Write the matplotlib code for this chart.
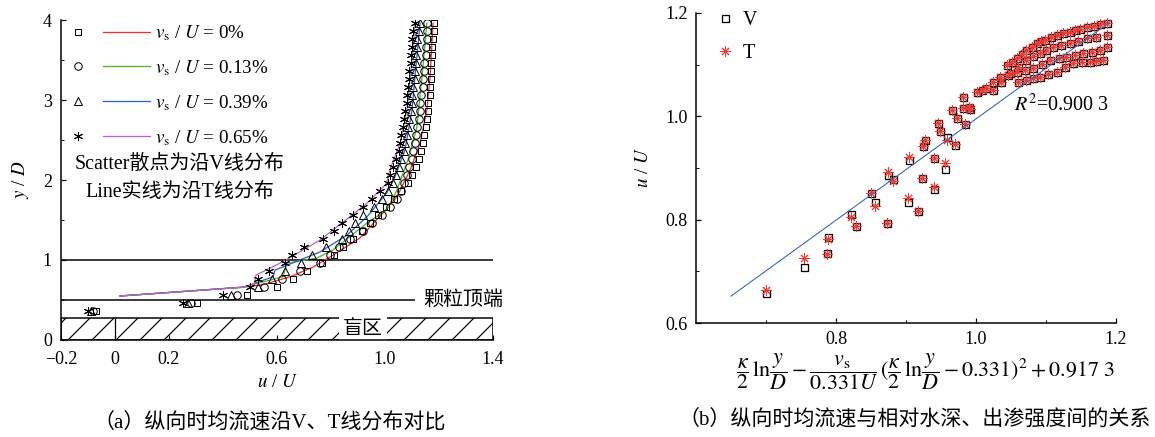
import matplotlib
matplotlib.use('Agg')
import matplotlib.pyplot as plt
import numpy as np
from matplotlib.lines import Line2D
from matplotlib.legend_handler import HandlerBase
from matplotlib.patches import Rectangle


###############################################################################
# (a) profiles along V (markers) and T (lines)
y_levels = [0.36, 0.46, 0.56, 0.66, 0.76, 0.86, 0.96, 1.06, 1.16, 1.26,
            1.36, 1.46, 1.56, 1.66, 1.76, 1.86, 1.96, 2.06, 2.16, 2.26,
            2.36, 2.46, 2.56, 2.66, 2.76, 2.86, 2.96, 3.06, 3.16, 3.26,
            3.36, 3.46, 3.56, 3.66, 3.76, 3.86, 3.96]

u_v_000 = [-0.07, 0.305, 0.49, 0.60, 0.66, 0.71, 0.765, 0.81, 0.845, 0.88,
           0.915, 0.945, 0.975, 1.005, 1.035, 1.06, 1.085, 1.10, 1.115, 1.125,
           1.135, 1.14, 1.145, 1.15, 1.155, 1.16, 1.16, 1.165, 1.165, 1.17,
           1.17, 1.17, 1.175, 1.175, 1.178, 1.18, 1.18]
u_v_013 = [-0.08, 0.28, 0.45, 0.55, 0.62, 0.685, 0.76, 0.795, 0.83, 0.87,
           0.92, 0.95, 0.99, 1.02, 1.045, 1.06, 1.07, 1.08, 1.09, 1.10,
           1.105, 1.11, 1.115, 1.12, 1.125, 1.13, 1.13, 1.135, 1.14, 1.14,
           1.145, 1.145, 1.15, 1.15, 1.155, 1.155, 1.155]
u_v_039 = [-0.09, 0.27, 0.43, 0.53, 0.58, 0.63, 0.69, 0.73, 0.78, 0.84,
           0.865, 0.89, 0.92, 0.96, 0.99, 1.01, 1.03, 1.04, 1.05, 1.06,
           1.07, 1.075, 1.08, 1.085, 1.09, 1.095, 1.10, 1.10, 1.105, 1.11,
           1.11, 1.115, 1.115, 1.12, 1.12, 1.125, 1.13]
u_v_065 = [-0.10, 0.25, 0.40, 0.50, 0.53, 0.57, 0.63, 0.655, 0.70, 0.77,
           0.81, 0.84, 0.88, 0.92, 0.95, 0.98, 1.01, 1.02, 1.03, 1.04,
           1.05, 1.055, 1.06, 1.065, 1.07, 1.075, 1.08, 1.08, 1.085, 1.09,
           1.09, 1.095, 1.095, 1.10, 1.10, 1.105, 1.11]

t_y_000 = [0.55, 0.66, 0.69, 0.79, 0.91, 1.06, 1.275, 1.59, 1.79, 2.125, 2.46, 2.875, 3.29, 3.96]
t_u_000 = [0.018, 0.474, 0.548, 0.648, 0.733, 0.807, 0.907, 0.993, 1.044, 1.093, 1.13, 1.155, 1.167, 1.178]
t_y_013 = [0.55, 0.66, 0.675, 0.79, 0.96, 1.025, 1.125, 1.46, 1.63, 1.875, 2.25, 2.66, 3.29, 3.96]
t_u_013 = [0.018, 0.474, 0.489, 0.622, 0.637, 0.748, 0.807, 0.933, 1.007, 1.044, 1.085, 1.118, 1.137, 1.155]
t_y_039 = [0.55, 0.66, 0.675, 0.79, 0.875, 1.0, 1.1, 1.31, 1.54, 1.84, 2.04, 2.375, 2.875, 3.29, 3.96]
t_u_039 = [0.018, 0.474, 0.489, 0.585, 0.593, 0.685, 0.759, 0.859, 0.933, 1.007, 1.037, 1.074, 1.10, 1.111, 1.13]
t_y_065 = [0.55, 0.66, 0.70, 0.81, 0.975, 1.25, 1.375, 1.70, 1.96, 2.125, 2.46, 2.875, 3.5, 3.96]
t_u_065 = [0.018, 0.474, 0.515, 0.522, 0.62, 0.76, 0.807, 0.93, 1.007, 1.018, 1.056, 1.081, 1.10, 1.111]

labels_a = [r'$v_{\mathrm{s}}$ / $U$ = 0%', r'$v_{\mathrm{s}}$ / $U$ = 0.13%',
            r'$v_{\mathrm{s}}$ / $U$ = 0.39%', r'$v_{\mathrm{s}}$ / $U$ = 0.65%']

###############################################################################
# (b) u/U against the fitted expression
low_x = [0.700, 0.754, 0.787, 0.789, 0.821, 0.829, 0.850, 0.856, 0.873, 0.874,
         0.881, 0.903, 0.904, 0.917, 0.923, 0.924, 0.927, 0.940, 0.940, 0.956,
         0.946, 0.949, 0.958, 0.970, 0.966, 0.973, 0.981, 0.981, 0.990, 0.992, 0.984]
low_v = [0.658, 0.708, 0.735, 0.766, 0.811, 0.788, 0.852, 0.834, 0.794, 0.886,
         0.879, 0.834, 0.915, 0.817, 0.880, 0.943, 0.954, 0.919, 0.859, 0.898,
         0.987, 0.972, 0.960, 0.944, 1.012, 0.997, 1.037, 1.016, 1.018, 1.015, 0.986]
low_t = [0.663, 0.726, 0.733, 0.762, 0.806, 0.788, 0.852, 0.826, 0.794, 0.893,
         0.874, 0.841, 0.922, 0.817, 0.880, 0.943, 0.954, 0.919, 0.864, 0.910,
         0.987, 0.972, 0.954, 0.947, 1.012, 0.997, 1.037, 1.016, 1.018, 1.015, 0.986]

band_x = [1.001, 1.008, 1.015, 1.025, 1.034, 1.044, 1.051, 1.058, 1.065, 1.072,
          1.080, 1.087, 1.093, 1.099, 1.107, 1.115, 1.124, 1.134, 1.141, 1.149,
          1.158, 1.168, 1.177, 1.187,
          1.025, 1.036, 1.048, 1.060, 1.072, 1.082, 1.091, 1.100, 1.110, 1.122,
          1.134, 1.146, 1.158, 1.172, 1.187,
          1.045, 1.058, 1.070, 1.082, 1.094, 1.106, 1.118, 1.129, 1.141, 1.153,
          1.165, 1.177, 1.187,
          1.060, 1.072, 1.082, 1.091, 1.103, 1.115, 1.127, 1.139, 1.151, 1.163,
          1.172, 1.182]
band_y = [1.048, 1.051, 1.054, 1.066, 1.077, 1.099, 1.106, 1.112, 1.120, 1.128,
          1.135, 1.141, 1.145, 1.148, 1.153, 1.157, 1.161, 1.164, 1.167, 1.170,
          1.173, 1.175, 1.178, 1.180,
          1.051, 1.067, 1.083, 1.096, 1.109, 1.116, 1.122, 1.129, 1.135, 1.138,
          1.141, 1.146, 1.151, 1.154, 1.157,
          1.080, 1.086, 1.090, 1.093, 1.101, 1.109, 1.112, 1.115, 1.119, 1.122,
          1.125, 1.128, 1.135,
          1.066, 1.070, 1.074, 1.077, 1.082, 1.086, 1.095, 1.103, 1.105, 1.106,
          1.108, 1.109]

fit_slope = 0.98
fit_intercept = 0.015
fit_range = [0.65, 1.19]

###############################################################################
plt.rcParams.update({'font.family': ['Liberation Serif', 'Noto Sans CJK SC'],
                     'mathtext.fontset': 'stix',
                     'axes.linewidth': 1.5,
                     'hatch.linewidth': 1.2,
                     'axes.unicode_minus': True})

fig = plt.figure(figsize=(1155 / 72, 437 / 72), dpi=72)
ax1 = fig.add_axes([61 / 1155, 1 - 340 / 437, 432 / 1155, 320 / 437])
ax2 = fig.add_axes([696 / 1155, 1 - 323 / 437, 420 / 1155, 310 / 437])


class PairHandler(HandlerBase):
    # marker on the left, short line on the right
    def create_artists(self, legend, orig_handle, xdescent, ydescent,
                       width, height, fontsize, trans):
        mk, ln = orig_handle
        yc = height / 2 - ydescent
        m = Line2D([-xdescent + 0.1 * width], [yc], linestyle='none',
                   marker=mk.get_marker(), ms=mk.get_markersize(),
                   mfc='none', mec='k', mew=mk.get_markeredgewidth(),
                   transform=trans)
        l = Line2D([-xdescent + 0.41 * width, -xdescent + width], [yc, yc],
                   color=ln.get_color(), lw=ln.get_linewidth(), transform=trans)
        return [m, l]


line_colors = ['#e8322d', '#4fb52f', '#2f62c4', '#b468c0']
markers = ['s', 'o', '^', (6, 2, 0)]
msizes = [6.5, 7.5, 8, 9]
u_series = [u_v_000, u_v_013, u_v_039, u_v_065]
t_series = [(t_u_000, t_y_000), (t_u_013, t_y_013), (t_u_039, t_y_039), (t_u_065, t_y_065)]

pairs = []
for i in range(4):
    ln, = ax1.plot(t_series[i][0], t_series[i][1], color=line_colors[i], lw=1.3, zorder=3)
    mk, = ax1.plot(u_series[i], y_levels, ls='none', marker=markers[i], ms=msizes[i],
                   mfc='none', mec='k', mew=1.0, zorder=4)
    pairs.append((mk, ln))

ax1.hlines(1.0, -0.2, 1.4, color='k', lw=1.5)
ax1.hlines(0.5, -0.2, 1.11, color='k', lw=1.5)
ax1.add_patch(Rectangle((-0.2, 0), 1.6, 0.275, fill=False, hatch='/',
                        edgecolor='k', lw=1.5, zorder=2))
ax1.vlines(0, 0, 0.275, color='k', lw=1.2, zorder=2)
ax1.text(0.917, 0.135, '盲区', fontsize=20, ha='center', va='center', zorder=2.2,
         bbox=dict(boxstyle='square,pad=0.2', fc='white', ec='none'))
ax1.text(1.14, 0.5, '颗粒顶端', fontsize=20, ha='left', va='center', clip_on=False)
ax1.text(0.24, 2.19, 'Scatter散点为沿V线分布', fontsize=20, ha='center', va='center')
ax1.text(0.24, 1.85, 'Line实线为沿T线分布', fontsize=20, ha='center', va='center')

ax1.legend(pairs, labels_a, handler_map={tuple: PairHandler()}, loc='upper left',
           bbox_to_anchor=(0.021, 0.99), frameon=False, fontsize=19,
           handlelength=80 / 19, handletextpad=0.25, labelspacing=0.8,
           borderpad=0, borderaxespad=0)

ax1.set_xlim(-0.2, 1.4)
ax1.set_ylim(0, 4)
ax1.set_xticks([-0.2, 0, 0.2, 0.6, 1.0, 1.4])
ax1.set_xticklabels(['\u22120.2', '0', '0.2', '0.6', '1.0', '1.4'])
ax1.set_yticks([0, 1, 2, 3, 4])
ax1.set_yticks([0.5, 1.5, 2.5, 3.5], minor=True)
ax1.tick_params(direction='in', length=5, width=1.2, labelsize=18)
ax1.tick_params(axis='x', pad=11)
ax1.tick_params(axis='y', pad=9)
ax1.tick_params(which='minor', direction='in', length=3, width=1.0)
ax1.spines['top'].set_visible(False)
ax1.spines['right'].set_visible(False)
ax1.set_xlabel(r'$u$ / $U$', fontsize=19, labelpad=6)
ax1.set_ylabel(r'$y$ / $D$', fontsize=19, labelpad=12)

###############################################################################
right_x = low_x + band_x
ax2.plot(right_x, low_v + band_y, ls='none', marker='s', ms=7, mfc='none',
         mec='k', mew=1.3, label='V', zorder=3)
ax2.plot(right_x, low_t + band_y, ls='none', marker=(8, 2, 0), ms=10,
         color='#ee3a35', mew=1.0, label='T', zorder=4)
fx = np.array(fit_range)
ax2.plot(fx, fit_slope * fx + fit_intercept, color='#3a67c0', lw=1.1, zorder=5)
ax2.text(1.19, 1.022, r'$R^{2}$=0.900 3', fontsize=20, ha='right', va='center')

ax2.set_xlim(0.6, 1.2)
ax2.set_ylim(0.6, 1.2)
ax2.set_xticks([0.8, 1.0, 1.2])
ax2.set_xticks([0.7, 0.9, 1.1], minor=True)
ax2.set_yticks([0.6, 0.8, 1.0, 1.2])
ax2.set_yticks([0.7, 0.9, 1.1], minor=True)
ax2.set_xticklabels(['0.8', '1.0', '1.2'])
ax2.set_yticklabels(['0.6', '0.8', '1.0', '1.2'])
ax2.tick_params(direction='in', length=5, width=1.2, labelsize=18, pad=8)
ax2.tick_params(which='minor', direction='in', length=3, width=1.0)
ax2.spines['top'].set_visible(False)
ax2.spines['right'].set_visible(False)
ax2.set_ylabel(r'$u$ / $U$', fontsize=19, labelpad=14)
ax2.legend(loc='upper left', bbox_to_anchor=(0.045, 1.005), frameon=False,
           fontsize=20, handlelength=1.0, handletextpad=0.4, labelspacing=0.7,
           borderpad=0, borderaxespad=0)

fig.text(925 / 1155, 1 - 372 / 437,
         r'$\dfrac{\kappa}{2}\,\mathrm{ln}\dfrac{y}{D}-\dfrac{v_{\mathrm{s}}}{0.331U}'
         r'\,(\dfrac{\kappa}{2}\,\mathrm{ln}\dfrac{y}{D}-0.331)^{2}+0.917\ 3$',
         fontsize=22, ha='center', va='center')

fig.text(270 / 1155, 1 - 423 / 437, '（a）纵向时均流速沿V、T线分布对比',
         fontsize=21, ha='center', va='center')
fig.text(915 / 1155, 1 - 420 / 437, '（b）纵向时均流速与相对水深、出渗强度间的关系',
         fontsize=21, ha='center', va='center')

plt.savefig('out.png', dpi=72)
